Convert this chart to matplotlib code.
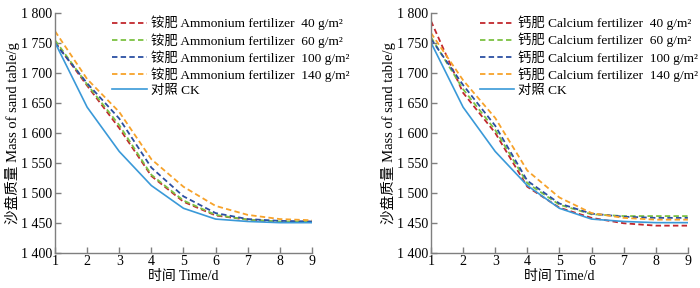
import matplotlib
matplotlib.use("Agg")
import matplotlib.pyplot as plt
from matplotlib.ticker import FuncFormatter, MultipleLocator

plt.rcParams['font.family'] = ['Liberation Serif', 'Noto Sans CJK SC']
plt.rcParams['axes.unicode_minus'] = False

days = [1, 2, 3, 4, 5, 6, 7, 8, 9]

ck = [1751, 1643, 1569, 1512, 1474, 1456, 1452, 1450, 1450]

amm_40 = [1752, 1679, 1608, 1528, 1485, 1462, 1455, 1451, 1451]
amm_60 = [1755, 1681, 1613, 1530, 1487, 1463, 1455, 1452, 1452]
amm_100 = [1750, 1683, 1624, 1542, 1494, 1466, 1456, 1453, 1452]
amm_140 = [1770, 1690, 1635, 1556, 1510, 1478, 1463, 1456, 1454]

cal_40 = [1787, 1667, 1600, 1510, 1475, 1458, 1449, 1445, 1445]
cal_60 = [1760, 1673, 1605, 1516, 1480, 1464, 1461, 1461, 1461]
cal_100 = [1757, 1680, 1612, 1520, 1482, 1465, 1460, 1458, 1458]
cal_140 = [1767, 1688, 1625, 1537, 1492, 1466, 1458, 1455, 1455]

rates = ["40", "60", "100", "140"]
colors = ["#c1272d", "#7cc242", "#2b4fa2", "#f7a22a"]
ck_color = "#3a99d8"
axis_color = "#7f7f7f"

fig = plt.figure(figsize=(7.0, 2.88), dpi=100)
ax1 = fig.add_axes([0.0786, 0.123, 0.367, 0.831])
ax2 = fig.add_axes([0.6157, 0.123, 0.367, 0.831])

def fmt(v, pos):
    v = int(round(v))
    return f"{v // 1000} {v % 1000:03d}"

panels = [
    (ax1, [amm_40, amm_60, amm_100, amm_140], "铵肥 Ammonium fertilizer", 0.222),
    (ax2, [cal_40, cal_60, cal_100, cal_140], "钙肥 Calcium fertilizer", 0.19),
]

for ax, series, name, lx in panels:
    for vals, r, c in zip(series, rates, colors):
        ax.plot(days, vals, color=c, lw=1.3, linestyle=(0, (3, 1.8)),
                label=f"{name}  {r} g/m²")
    ax.plot(days, ck, color=ck_color, lw=1.2, label="对照 CK")
    ax.set_xlim(1, 9)
    ax.set_ylim(1400, 1800)
    ax.xaxis.set_major_locator(MultipleLocator(1))
    ax.yaxis.set_major_locator(MultipleLocator(50))
    ax.yaxis.set_major_formatter(FuncFormatter(fmt))
    for s in ["top", "right"]:
        ax.spines[s].set_visible(False)
    for s in ["left", "bottom"]:
        ax.spines[s].set_color(axis_color)
        ax.spines[s].set_linewidth(1.0)
    ax.tick_params(direction="in", length=4, width=1.0, color=axis_color,
                   labelsize=10, pad=2)
    ax.set_xlabel("时间 Time/d", fontsize=10, labelpad=1)
    ax.set_ylabel("沙盘质量 Mass of sand table/g", fontsize=10.5, labelpad=1)
    leg = ax.legend(loc="upper left", bbox_to_anchor=(lx, 0.99), frameon=False,
                    fontsize=9.6, handlelength=2.6, handletextpad=0.3,
                    labelspacing=0.2, borderpad=0, borderaxespad=0)

fig.savefig("out.png", dpi=100)
